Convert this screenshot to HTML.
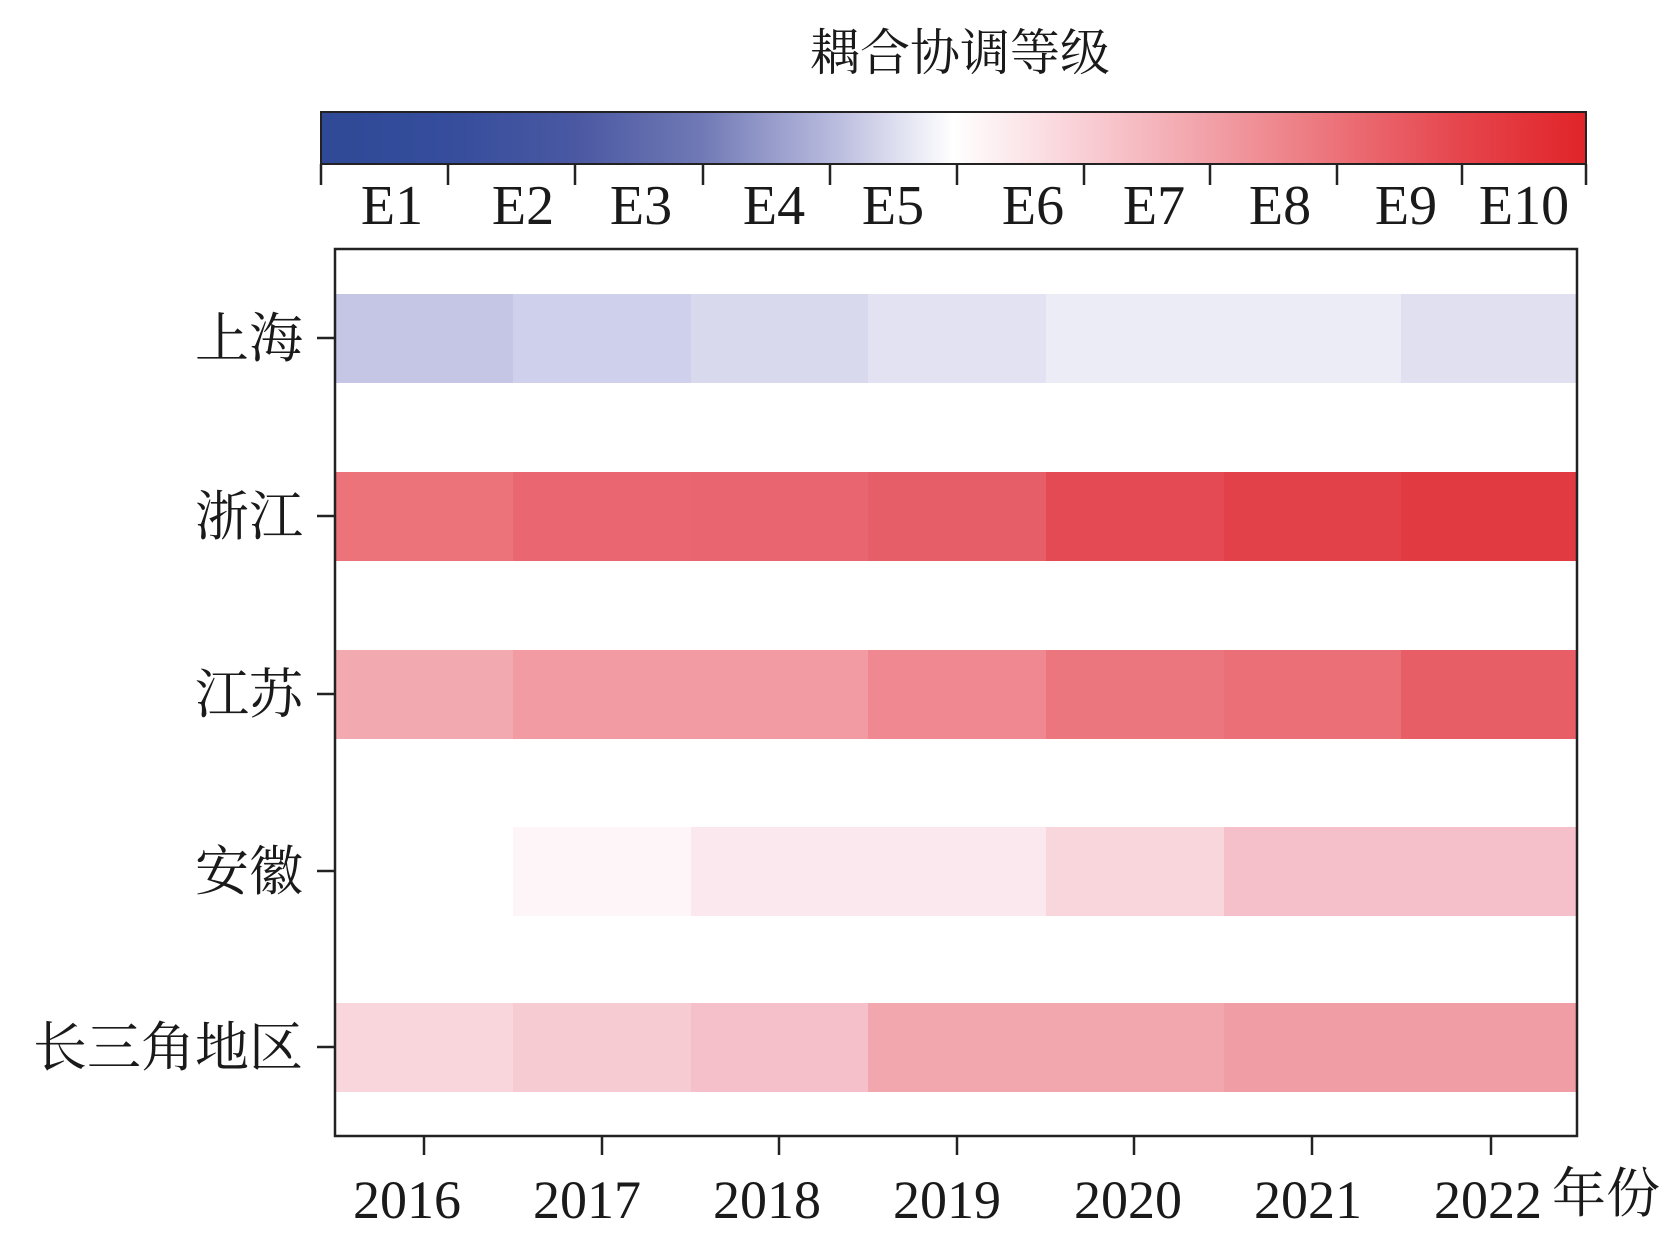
<!DOCTYPE html>
<html><head><meta charset="utf-8"><style>
html,body{margin:0;padding:0;background:#fff;}
svg text{font-family:"Liberation Serif","Noto Serif CJK SC",serif;fill:#1a1a1a;}
</style></head><body>
<svg width="1676" height="1248" viewBox="0 0 1676 1248" xmlns="http://www.w3.org/2000/svg">
<defs>
<linearGradient id="cb" x1="0" x2="1" y1="0" y2="0">
<stop offset="0" stop-color="#2f4997"/>
<stop offset="0.1" stop-color="#354d9c"/>
<stop offset="0.2" stop-color="#4a58a2"/>
<stop offset="0.3" stop-color="#7079b5"/>
<stop offset="0.4" stop-color="#b5b7dc"/>
<stop offset="0.5" stop-color="#ffffff"/>
<stop offset="0.6" stop-color="#f9d0d6"/>
<stop offset="0.7" stop-color="#f2a1a8"/>
<stop offset="0.8" stop-color="#ec737a"/>
<stop offset="0.9" stop-color="#e6454d"/>
<stop offset="1" stop-color="#e02428"/>
</linearGradient>
</defs>
<text x="960" y="70" font-size="50" text-anchor="middle">耦合协调等级</text>
<rect x="321" y="112" width="1265" height="52" fill="url(#cb)" stroke="#222" stroke-width="2"/>
<g stroke="#222" stroke-width="2.5">
<line x1="321" y1="164" x2="321" y2="185"/><line x1="448" y1="164" x2="448" y2="185"/><line x1="575" y1="164" x2="575" y2="185"/><line x1="703" y1="164" x2="703" y2="185"/><line x1="830" y1="164" x2="830" y2="185"/><line x1="957" y1="164" x2="957" y2="185"/><line x1="1084" y1="164" x2="1084" y2="185"/><line x1="1210" y1="164" x2="1210" y2="185"/><line x1="1337" y1="164" x2="1337" y2="185"/><line x1="1462" y1="164" x2="1462" y2="185"/><line x1="1586" y1="164" x2="1586" y2="185"/>
</g>
<g font-size="56" text-anchor="middle">
<text x="392" y="224">E1</text><text x="523" y="224">E2</text><text x="641" y="224">E3</text><text x="774" y="224">E4</text><text x="893" y="224">E5</text><text x="1033" y="224">E6</text><text x="1154" y="224">E7</text><text x="1280" y="224">E8</text><text x="1406" y="224">E9</text><text x="1524" y="224">E10</text>
</g>
<g>
<rect x="335" y="294" width="178" height="89" fill="#c5c5e5"/><rect x="513" y="294" width="178" height="89" fill="#cfd1ec"/><rect x="691" y="294" width="178" height="89" fill="#d9d9ee"/><rect x="868" y="294" width="178" height="89" fill="#e2e2f2"/><rect x="1046" y="294" width="178" height="89" fill="#ececf6"/><rect x="1224" y="294" width="178" height="89" fill="#ececf6"/><rect x="1401" y="294" width="176" height="89" fill="#e0e0f0"/>
<rect x="335" y="472" width="178" height="89" fill="#ec737a"/><rect x="513" y="472" width="178" height="89" fill="#ea6670"/><rect x="691" y="472" width="178" height="89" fill="#e9656f"/><rect x="868" y="472" width="178" height="89" fill="#e65e67"/><rect x="1046" y="472" width="178" height="89" fill="#e44a54"/><rect x="1224" y="472" width="178" height="89" fill="#e2414a"/><rect x="1401" y="472" width="176" height="89" fill="#e13a40"/>
<rect x="335" y="650" width="178" height="89" fill="#f2aab0"/><rect x="513" y="650" width="178" height="89" fill="#f29ba3"/><rect x="691" y="650" width="178" height="89" fill="#f29ba3"/><rect x="868" y="650" width="178" height="89" fill="#ef8890"/><rect x="1046" y="650" width="178" height="89" fill="#ec767e"/><rect x="1224" y="650" width="178" height="89" fill="#ea6f77"/><rect x="1401" y="650" width="176" height="89" fill="#e75e66"/>
<rect x="513" y="827" width="178" height="89" fill="#fdf5f8"/><rect x="691" y="827" width="178" height="89" fill="#fae8ee"/><rect x="868" y="827" width="178" height="89" fill="#fae8ee"/><rect x="1046" y="827" width="178" height="89" fill="#f8d6db"/><rect x="1224" y="827" width="178" height="89" fill="#f5c0c9"/><rect x="1401" y="827" width="176" height="89" fill="#f5c0c9"/>
<rect x="335" y="1003" width="178" height="89" fill="#f8d6dc"/><rect x="513" y="1003" width="178" height="89" fill="#f7cbd2"/><rect x="691" y="1003" width="178" height="89" fill="#f5c0c9"/><rect x="868" y="1003" width="178" height="89" fill="#f2a7ae"/><rect x="1046" y="1003" width="178" height="89" fill="#f2a7ae"/><rect x="1224" y="1003" width="178" height="89" fill="#f09da5"/><rect x="1401" y="1003" width="176" height="89" fill="#f09da5"/>
</g>
<rect x="335" y="249" width="1242" height="887" fill="none" stroke="#222" stroke-width="2.5"/>
<g stroke="#222" stroke-width="2.5">
<line x1="317" y1="338" x2="335" y2="338"/><line x1="317" y1="516" x2="335" y2="516"/><line x1="317" y1="694" x2="335" y2="694"/><line x1="317" y1="871" x2="335" y2="871"/><line x1="317" y1="1047" x2="335" y2="1047"/>
<line x1="424" y1="1136" x2="424" y2="1155"/><line x1="602" y1="1136" x2="602" y2="1155"/><line x1="779" y1="1136" x2="779" y2="1155"/><line x1="957" y1="1136" x2="957" y2="1155"/><line x1="1134" y1="1136" x2="1134" y2="1155"/><line x1="1312" y1="1136" x2="1312" y2="1155"/><line x1="1491" y1="1136" x2="1491" y2="1155"/>
</g>
<g font-size="54" text-anchor="end">
<text x="303" y="357">上海</text><text x="303" y="535">浙江</text><text x="303" y="713">江苏</text><text x="303" y="890">安徽</text><text x="303" y="1066">长三角地区</text>
</g>
<g font-size="54" text-anchor="middle">
<text x="407" y="1218" textLength="108" lengthAdjust="spacingAndGlyphs">2016</text><text x="587" y="1218" textLength="108" lengthAdjust="spacingAndGlyphs">2017</text><text x="767" y="1218" textLength="108" lengthAdjust="spacingAndGlyphs">2018</text><text x="947" y="1218" textLength="108" lengthAdjust="spacingAndGlyphs">2019</text><text x="1128" y="1218" textLength="108" lengthAdjust="spacingAndGlyphs">2020</text><text x="1308" y="1218" textLength="108" lengthAdjust="spacingAndGlyphs">2021</text><text x="1488" y="1218" textLength="108" lengthAdjust="spacingAndGlyphs">2022</text>
</g>
<text x="1552" y="1212" font-size="54">年份</text>
</svg>
</body></html>
